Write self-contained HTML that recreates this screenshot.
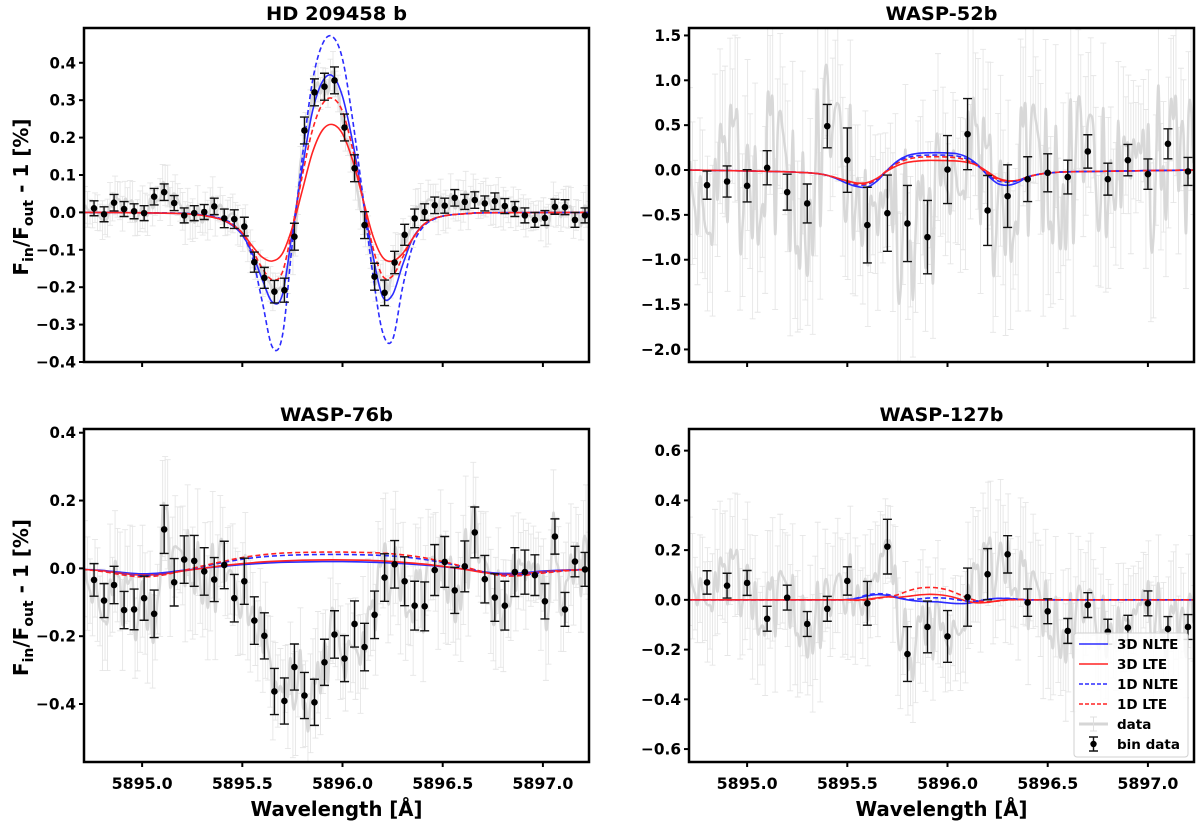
<!DOCTYPE html>
<html><head><meta charset="utf-8"><style>
html,body{margin:0;padding:0;background:#fff;}
svg{display:block;font-family:"DejaVu Sans","Liberation Sans",sans-serif;}
</style></head><body>
<svg id="fig" width="1200" height="824" viewBox="0 0 1200 824" xmlns="http://www.w3.org/2000/svg"></svg>
<script>
// ---------- shared data ----------
const xTicks = [5895.0, 5895.5, 5896.0, 5896.5, 5897.0];
const xTickLabels = ["5895.0", "5895.5", "5896.0", "5896.5", "5897.0"];
const noiseResidual = [0.3,-0.5,0.8,-0.2,0.6,-0.9,0.1,0.7,-0.4,0.9,-0.6,0.2,-0.8,0.5,-0.1,0.6,-0.7,0.4,-0.3,0.9,-0.5,0.1,-0.9,0.7,-0.2,0.4,-0.6,0.8,-0.4,0.2,-0.7,0.5,0.0,-0.8,0.6,-0.3,0.9,-0.1,0.3,-0.6,0.7,-0.9,0.2,0.5,-0.4,0.8,-0.7,0.1,-0.2,0.6,-0.5,0.9,-0.3,0.4,-0.8,0.2,0.7,-0.6,0.3,-0.1,0.8,-0.9,0.5,-0.4,0.1,0.6,-0.7,0.3,-0.2,0.9,-0.5,0.4,-0.8,0.7,-0.3,0.2,-0.6,0.5,-0.9,0.8,-0.1,0.4,-0.7,0.6,-0.2,0.3,-0.5,0.9,-0.4,0.1,-0.8,0.7,-0.3,0.5,-0.6,0.2,-0.9,0.8,-0.1,0.4,-0.5];

// ---------- Panel 1: HD 209458 b ----------
const p1BinY = [0.011,-0.005,0.026,0.009,0.003,-0.002,0.042,0.054,0.025,-0.008,-0.002,0.001,0.016,-0.016,-0.018,-0.038,-0.133,-0.175,-0.212,-0.208,-0.065,0.219,0.321,0.336,0.353,0.227,0.118,-0.034,-0.172,-0.215,-0.134,-0.060,-0.016,0.001,0.019,0.018,0.039,0.028,0.033,0.024,0.030,0.017,0.009,-0.008,-0.020,-0.015,0.015,0.014,-0.020,-0.008];
const p1BinErr = [0.02,0.02,0.022,0.02,0.02,0.02,0.022,0.022,0.02,0.02,0.02,0.02,0.022,0.025,0.025,0.025,0.027,0.028,0.03,0.032,0.036,0.036,0.036,0.036,0.036,0.036,0.036,0.036,0.036,0.034,0.03,0.028,0.025,0.022,0.022,0.02,0.022,0.02,0.022,0.02,0.022,0.02,0.02,0.02,0.02,0.02,0.02,0.02,0.02,0.02];
const p1ModelX = [5894.7,5895.0,5895.20,5895.25,5895.30,5895.35,5895.40,5895.45,5895.50,5895.55,5895.60,5895.65,5895.70,5895.75,5895.80,5895.85,5895.90,5895.95,5896.00,5896.05,5896.10,5896.15,5896.20,5896.25,5896.30,5896.35,5896.40,5896.45,5896.50,5896.55,5896.60,5896.65,5896.70,5897.0,5897.23];
const p1NLTE3D = [0,-0.001,-0.003,-0.005,-0.007,-0.012,-0.02,-0.035,-0.06,-0.11,-0.18,-0.24,-0.22,-0.05,0.12,0.27,0.35,0.365,0.31,0.19,0.04,-0.11,-0.225,-0.22,-0.14,-0.07,-0.035,-0.018,-0.01,-0.006,-0.004,-0.002,-0.001,-0.0005,0];
const p1LTE3D = [0,-0.001,-0.003,-0.005,-0.008,-0.013,-0.02,-0.033,-0.055,-0.09,-0.12,-0.13,-0.11,-0.04,0.06,0.16,0.22,0.235,0.21,0.14,0.04,-0.06,-0.12,-0.13,-0.11,-0.07,-0.035,-0.018,-0.01,-0.006,-0.004,-0.002,-0.001,-0.0005,0];
const p1NLTE1D = [0,-0.001,-0.002,-0.004,-0.006,-0.01,-0.018,-0.03,-0.06,-0.12,-0.24,-0.36,-0.33,-0.08,0.15,0.35,0.45,0.47,0.41,0.25,0.05,-0.16,-0.32,-0.34,-0.2,-0.09,-0.04,-0.02,-0.01,-0.006,-0.004,-0.002,-0.001,-0.0005,0];
const p1LTE1D = [0,-0.001,-0.003,-0.005,-0.008,-0.012,-0.02,-0.033,-0.055,-0.1,-0.15,-0.18,-0.16,-0.04,0.1,0.22,0.29,0.305,0.27,0.17,0.04,-0.09,-0.17,-0.17,-0.12,-0.07,-0.035,-0.018,-0.01,-0.006,-0.004,-0.002,-0.001,-0.0005,0];

// ---------- Panel 2: WASP-52b ----------
const p2BinY = [-0.169,-0.128,-0.176,0.025,-0.247,-0.373,0.489,0.110,-0.614,-0.481,-0.596,-0.748,0.005,0.400,-0.451,-0.291,-0.102,-0.031,-0.079,0.207,-0.102,0.110,-0.046,0.292,-0.016];
const p2BinErr = [0.157,0.173,0.18,0.19,0.2,0.217,0.242,0.359,0.422,0.425,0.424,0.409,0.379,0.396,0.39,0.349,0.25,0.212,0.188,0.186,0.178,0.175,0.169,0.167,0.156];
const p2ModelX = [5894.7,5895.0,5895.20,5895.25,5895.30,5895.35,5895.40,5895.45,5895.50,5895.55,5895.60,5895.65,5895.70,5895.75,5895.80,5895.85,5895.90,5895.95,5896.00,5896.05,5896.10,5896.15,5896.20,5896.25,5896.30,5896.35,5896.40,5896.45,5896.50,5896.55,5896.60,5896.9,5897.23];
const p2NLTE3D = [0,-0.01,-0.02,-0.025,-0.03,-0.04,-0.06,-0.1,-0.15,-0.185,-0.19,-0.12,0.0,0.1,0.16,0.185,0.192,0.193,0.19,0.18,0.14,0.06,-0.06,-0.15,-0.17,-0.14,-0.08,-0.05,-0.035,-0.025,-0.02,-0.01,0];
const p2LTE3D = [0,-0.01,-0.02,-0.025,-0.03,-0.04,-0.06,-0.09,-0.12,-0.145,-0.14,-0.09,-0.01,0.05,0.085,0.1,0.107,0.107,0.105,0.1,0.085,0.05,-0.02,-0.09,-0.12,-0.115,-0.08,-0.05,-0.035,-0.025,-0.02,-0.01,0];
const p2NLTE1D = [0,-0.01,-0.02,-0.025,-0.03,-0.04,-0.06,-0.095,-0.14,-0.165,-0.16,-0.1,0.0,0.09,0.14,0.16,0.166,0.167,0.165,0.155,0.12,0.05,-0.05,-0.12,-0.135,-0.12,-0.075,-0.05,-0.035,-0.025,-0.02,-0.01,0];
const p2LTE1D = [0,-0.01,-0.02,-0.025,-0.03,-0.04,-0.06,-0.09,-0.13,-0.155,-0.15,-0.095,0.0,0.075,0.12,0.14,0.147,0.148,0.145,0.135,0.105,0.045,-0.04,-0.105,-0.125,-0.115,-0.075,-0.05,-0.035,-0.025,-0.02,-0.01,0];

// ---------- Panel 3: WASP-76b ----------
const p3BinY = [-0.034,-0.095,-0.049,-0.123,-0.121,-0.088,-0.134,0.115,-0.041,0.026,0.022,-0.009,-0.033,0.010,-0.088,-0.038,-0.154,-0.199,-0.363,-0.391,-0.291,-0.375,-0.395,-0.277,-0.195,-0.266,-0.164,-0.232,-0.137,-0.027,0.012,-0.038,-0.110,-0.112,-0.005,0.019,-0.065,0.006,0.106,-0.032,-0.086,-0.110,-0.011,-0.011,-0.020,-0.097,0.094,-0.121,0.020,-0.003];
const p3BinErr = [0.048,0.05,0.055,0.055,0.06,0.065,0.07,0.071,0.07,0.07,0.075,0.07,0.065,0.07,0.07,0.068,0.07,0.068,0.068,0.068,0.068,0.068,0.068,0.068,0.07,0.068,0.068,0.07,0.07,0.07,0.07,0.072,0.072,0.072,0.075,0.075,0.068,0.075,0.075,0.07,0.07,0.072,0.072,0.065,0.06,0.052,0.052,0.05,0.045,0.05];
const p3ModelX = [5894.7,5894.8,5894.9,5895.0,5895.1,5895.2,5895.3,5895.4,5895.5,5895.6,5895.7,5895.8,5895.9,5896.0,5896.1,5896.2,5896.3,5896.4,5896.5,5896.6,5896.7,5896.8,5896.9,5897.0,5897.1,5897.23];
const p3NLTE3D = [-0.003,-0.006,-0.012,-0.016,-0.013,-0.006,0.0,0.006,0.011,0.015,0.018,0.019,0.02,0.02,0.019,0.017,0.014,0.01,0.005,-0.002,-0.01,-0.015,-0.013,-0.008,-0.005,-0.003];
const p3LTE3D = [-0.003,-0.007,-0.015,-0.02,-0.017,-0.008,0.0,0.008,0.014,0.019,0.022,0.024,0.025,0.025,0.024,0.022,0.018,0.013,0.006,-0.002,-0.012,-0.018,-0.016,-0.01,-0.006,-0.003];
const p3NLTE1D = [-0.003,-0.008,-0.017,-0.022,-0.018,-0.007,0.005,0.017,0.027,0.034,0.038,0.04,0.041,0.041,0.04,0.038,0.034,0.027,0.017,0.005,-0.01,-0.02,-0.019,-0.012,-0.007,-0.003];
const p3LTE1D = [-0.003,-0.009,-0.019,-0.025,-0.02,-0.007,0.007,0.02,0.032,0.04,0.045,0.047,0.048,0.048,0.047,0.045,0.04,0.032,0.02,0.006,-0.01,-0.022,-0.021,-0.014,-0.008,-0.003];

// ---------- Panel 4: WASP-127b ----------
const p4BinY = [0.070,0.057,0.068,-0.076,0.009,-0.097,-0.036,0.076,-0.014,0.214,-0.218,-0.109,-0.147,0.011,0.103,0.183,-0.011,-0.046,-0.125,-0.021,-0.128,-0.112,-0.014,-0.117,-0.109];
const p4BinErr = [0.047,0.05,0.05,0.05,0.05,0.05,0.05,0.057,0.088,0.11,0.11,0.104,0.104,0.117,0.103,0.075,0.055,0.05,0.05,0.05,0.05,0.05,0.05,0.05,0.05];
const p4ModelX = [5894.7,5895.0,5895.40,5895.45,5895.50,5895.55,5895.60,5895.65,5895.70,5895.75,5895.80,5895.85,5895.90,5895.95,5896.00,5896.05,5896.10,5896.15,5896.20,5896.25,5896.30,5896.35,5896.40,5896.45,5896.50,5897.0,5897.23];
const p4NLTE3D = [0,0,0,0,0.001,0.006,0.016,0.021,0.018,0.008,0.0,-0.005,-0.007,-0.008,-0.012,-0.015,-0.014,-0.006,0.002,0.006,0.005,0.002,0,0,0,0,0];
const p4LTE3D = [0,0,0,0,0,-0.001,0.002,0.008,0.012,0.01,0.014,0.019,0.022,0.021,0.016,0.006,-0.006,-0.012,-0.01,-0.004,0.0,0.001,0,0,0,0,0];
const p4NLTE1D = [0,0,0,0,0.001,0.008,0.02,0.025,0.022,0.01,0.002,0.003,0.007,0.008,0.006,0.0,-0.005,-0.004,0.002,0.006,0.006,0.003,0,0,0,0,0];
const p4LTE1D = [0,0,0,0,0,-0.002,0.0,0.006,0.012,0.02,0.035,0.046,0.05,0.048,0.04,0.025,0.008,-0.004,-0.008,-0.005,-0.001,0.001,0,0,0,0,0];

// ---------- tick labels ----------
const p1YTicks = [-0.4,-0.3,-0.2,-0.1,0.0,0.1,0.2,0.3,0.4];
const p1YLabels = ["−0.4","−0.3","−0.2","−0.1","0.0","0.1","0.2","0.3","0.4"];
const p2YTicks = [-2.0,-1.5,-1.0,-0.5,0.0,0.5,1.0,1.5];
const p2YLabels = ["−2.0","−1.5","−1.0","−0.5","0.0","0.5","1.0","1.5"];
const p3YTicks = [-0.4,-0.2,0.0,0.2,0.4];
const p3YLabels = ["−0.4","−0.2","0.0","0.2","0.4"];
const p4YTicks = [-0.6,-0.4,-0.2,0.0,0.2,0.4,0.6];
const p4YLabels = ["−0.6","−0.4","−0.2","0.0","0.2","0.4","0.6"];

// ---------- drawing ----------
const NS = "http://www.w3.org/2000/svg";
const svg = document.getElementById("fig");
const XMIN = 5894.71, XMAX = 5897.23;
const BIN_X0 = 5894.76, BIN_STEP1 = 0.05, BIN_X0b = 5894.8, BIN_STEP2 = 0.1;
const BLUE = "#2b2bff", RED = "#ff2323";

function mk(tag, attrs, parent) {
  const e = document.createElementNS(NS, tag);
  for (const k in attrs) e.setAttribute(k, attrs[k]);
  (parent || svg).appendChild(e);
  return e;
}
function labelWidth(s) {
  let w = 0;
  for (const c of s) w += (c === "." ? 5.5 : c === "−" ? 13.5 : 10.5);
  return w;
}
function interp(xs, ys, x) {
  if (x <= xs[0]) return ys[0];
  for (let i = 1; i < xs.length; i++) if (x <= xs[i]) {
    const t = (x - xs[i-1]) / (xs[i] - xs[i-1]); return ys[i-1] + t * (ys[i] - ys[i-1]);
  }
  return ys[ys.length - 1];
}
function smoothPath(pts) {
  let d = "M" + pts[0][0].toFixed(2) + "," + pts[0][1].toFixed(2);
  for (let i = 0; i < pts.length - 1; i++) {
    const p0 = pts[Math.max(0, i-1)], p1 = pts[i], p2 = pts[i+1], p3 = pts[Math.min(pts.length-1, i+2)];
    const c1 = [p1[0] + (p2[0]-p0[0])/6, p1[1] + (p2[1]-p0[1])/6];
    const c2 = [p2[0] - (p3[0]-p1[0])/6, p2[1] - (p3[1]-p1[1])/6];
    d += "C" + c1[0].toFixed(2) + "," + c1[1].toFixed(2) + " " + c2[0].toFixed(2) + "," + c2[1].toFixed(2) + " " + p2[0].toFixed(2) + "," + p2[1].toFixed(2);
  }
  return d;
}

function panel(cfg) {
  const {id, L, T, R, B, ymin, ymax} = cfg;
  const g = mk("g", {}, svg);
  
  
  const xs = v => L + (v - XMIN) / (XMAX - XMIN) * (R - L);
  const ys = v => B - (v - ymin) / (ymax - ymin) * (B - T);
  const clip = mk("clipPath", {id: "clip-" + id}, g);
  mk("rect", {x: L, y: T, width: R - L, height: B - T}, clip);
  const plot = mk("g", {"clip-path": "url(#clip-" + id + ")"}, g);
  
  

  const binX = cfg.binY.map((_, i) => cfg.binStart + i * cfg.binStep);

  // raw grey data
  const rawG = mk("g", {}, plot);
  
  
  const rawPts = [];
  const N = noiseResidual.length;
  for (let i = 0; i < 202; i++) {
    const x = 5894.715 + i * 0.0125;
    const r = noiseResidual[(i * 37) % N];
    const v = interp(binX, cfg.binY, x) + cfg.noiseAmp * r;
    rawPts.push([xs(x), ys(v)]);
    const eb = cfg.rawErr * (1 + 0.3 * noiseResidual[(i * 11) % N]);
    const ln = mk("path", {d: "M" + xs(x) + "," + ys(v - eb) + "V" + ys(v + eb) + "M" + (xs(x)-3) + "," + ys(v-eb) + "h6M" + (xs(x)-3) + "," + ys(v+eb) + "h6", stroke: "#e6e6e6", "stroke-width": 0.9, fill: "none"}, rawG);
    
    
  }
  const rawLine = mk("path", {d: smoothPath(rawPts), stroke: "#d8d8d8", "stroke-width": 2.5, fill: "none", "stroke-linejoin": "round"}, rawG);
  
  

  // models
  const models = [
    [cfg.nlte3d, BLUE, null, "model-3d-nlte"],
    [cfg.lte3d, RED, null, "model-3d-lte"],
    [cfg.nlte1d, BLUE, "5,3", "model-1d-nlte"],
    [cfg.lte1d, RED, "5,3", "model-1d-lte"]
  ];
  for (const [arr, col, dash, nm] of models) {
    const pts = arr.map((v, i) => [xs(cfg.modelX[i]), ys(v)]);
    const p = mk("path", {d: smoothPath(pts), stroke: col, "stroke-width": 1.6, fill: "none"}, plot);
    if (dash) p.setAttribute("stroke-dasharray", dash);
    
    
  }

  // binned points
  const binG = mk("g", {}, plot);
  
  
  cfg.binY.forEach((v, i) => {
    const x = xs(binX[i]), e = cfg.binErr[i];
    const y1 = ys(v - e), y2 = ys(v + e);
    const eb = mk("path", {d: "M" + x + "," + y1 + "V" + y2 + "M" + (x-4.5) + "," + y1 + "h9M" + (x-4.5) + "," + y2 + "h9", stroke: "#111", "stroke-width": 1.4, fill: "none"}, binG);
    
    
    const c = mk("circle", {cx: x, cy: ys(v), r: 3.3, fill: "#000"}, binG);
    
    
  });

  const fr = mk("rect", {x: L, y: T, width: R - L, height: B - T, fill: "none", stroke: "#000", "stroke-width": 2.5}, g);
  
  

  cfg.yTicks.forEach((v, i) => {
    const y = ys(v);
    const t = mk("line", {x1: L - 5, x2: L, y1: y, y2: y, stroke: "#000", "stroke-width": 2}, g);
    
    
    const s = cfg.yLabels[i];
    const tx = mk("text", {x: L - 8, y: y + 5.5, "text-anchor": "end", "font-size": 16, "font-weight": "bold", textLength: labelWidth(s), lengthAdjust: "spacingAndGlyphs"}, g);
    tx.textContent = s;
    
    
  });
  xTicks.forEach((v, i) => {
    const x = xs(v);
    const t = mk("line", {x1: x, x2: x, y1: B, y2: B + 5, stroke: "#000", "stroke-width": 2}, g);
    
    
    if (cfg.xLabels) {
      const s = xTickLabels[i];
      const tx = mk("text", {x: x, y: B + 27, "text-anchor": "middle", "font-size": 16, "font-weight": "bold", textLength: labelWidth(s) + 3, lengthAdjust: "spacingAndGlyphs"}, g);
      tx.textContent = s;
      
      
    }
  });
  const ti = mk("text", {x: (L + R) / 2, y: T - 8, "text-anchor": "middle", "font-size": 19, "font-weight": "bold", textLength: cfg.titleW, lengthAdjust: "spacingAndGlyphs"}, g);
  ti.textContent = cfg.title;
  
  
  if (cfg.xLabels) {
    const xl = mk("text", {x: (L + R) / 2, y: 816, "text-anchor": "middle", "font-size": 20, "font-weight": "bold", textLength: 172, lengthAdjust: "spacingAndGlyphs"}, g);
    xl.textContent = "Wavelength [Å]";
    
    
  }
  if (cfg.yLabel) {
    const cy = (T + B) / 2 + 2;
    const yl = mk("text", {x: 0, y: 0, "text-anchor": "middle", "font-size": 20, "font-weight": "bold", transform: "translate(28," + cy + ") rotate(-90)"}, g);
    yl.innerHTML = 'F<tspan font-size="14" dy="5">in</tspan><tspan dy="-5">/F</tspan><tspan font-size="14" dy="5">out</tspan><tspan dy="-5"> - 1 [%]</tspan>';
    
    
  }
  return g;
}

panel({id: "hd209458b", title: "HD 209458 b", titleW: 141, L: 84, T: 28, R: 589, B: 362, ymin: -0.4, ymax: 0.493,
  binY: p1BinY, binErr: p1BinErr, binStart: BIN_X0, binStep: BIN_STEP1, noiseAmp: 0.03, rawErr: 0.045,
  modelX: p1ModelX, nlte3d: p1NLTE3D, lte3d: p1LTE3D, nlte1d: p1NLTE1D, lte1d: p1LTE1D,
  yTicks: p1YTicks, yLabels: p1YLabels, xLabels: false, yLabel: true});
panel({id: "wasp52b", title: "WASP-52b", titleW: 112, L: 689, T: 28, R: 1194, B: 362, ymin: -2.14, ymax: 1.583,
  binY: p2BinY, binErr: p2BinErr, binStart: BIN_X0b, binStep: BIN_STEP2, noiseAmp: 0.9, rawErr: 0.75,
  modelX: p2ModelX, nlte3d: p2NLTE3D, lte3d: p2LTE3D, nlte1d: p2NLTE1D, lte1d: p2LTE1D,
  yTicks: p2YTicks, yLabels: p2YLabels, xLabels: false, yLabel: false});
panel({id: "wasp76b", title: "WASP-76b", titleW: 113, L: 84, T: 429, R: 589, B: 762, ymin: -0.571, ymax: 0.411,
  binY: p3BinY, binErr: p3BinErr, binStart: BIN_X0, binStep: BIN_STEP1, noiseAmp: 0.11, rawErr: 0.13,
  modelX: p3ModelX, nlte3d: p3NLTE3D, lte3d: p3LTE3D, nlte1d: p3NLTE1D, lte1d: p3LTE1D,
  yTicks: p3YTicks, yLabels: p3YLabels, xLabels: true, yLabel: true});
panel({id: "wasp127b", title: "WASP-127b", titleW: 124, L: 689, T: 429, R: 1194, B: 762, ymin: -0.652, ymax: 0.687,
  binY: p4BinY, binErr: p4BinErr, binStart: BIN_X0b, binStep: BIN_STEP2, noiseAmp: 0.15, rawErr: 0.2,
  modelX: p4ModelX, nlte3d: p4NLTE3D, lte3d: p4LTE3D, nlte1d: p4NLTE1D, lte1d: p4LTE1D,
  yTicks: p4YTicks, yLabels: p4YLabels, xLabels: true, yLabel: false});

// legend
const lg = mk("g", {}, svg);


mk("rect", {x: 1074, y: 633, width: 114, height: 124, rx: 3, fill: "#fff", "fill-opacity": 0.85, stroke: "#d0d0d0", "stroke-width": 1}, lg);
const legendNames = ["3D NLTE", "3D LTE", "1D NLTE", "1D LTE", "data", "bin data"];
const legendKeys = ["legend-3d-nlte", "legend-3d-lte", "legend-1d-nlte", "legend-1d-lte", "legend-data", "legend-bin-data"];
legendNames.forEach((nm, i) => {
  const y = 644 + i * 20;
  const e = mk("g", {}, lg);
  
  
  if (i < 4) {
    const l = mk("line", {x1: 1079, x2: 1108, y1: y, y2: y, stroke: i % 2 === 0 ? BLUE : RED, "stroke-width": 1.6}, e);
    if (i >= 2) l.setAttribute("stroke-dasharray", "4,2");
  } else if (i === 4) {
    mk("line", {x1: 1079, x2: 1108, y1: y, y2: y, stroke: "#d6d6d6", "stroke-width": 3}, e);
    mk("path", {d: "M1093.5," + (y-7) + "v14M1090," + (y-7) + "h7M1090," + (y+7) + "h7", stroke: "#e0e0e0", "stroke-width": 1, fill: "none"}, e);
  } else {
    mk("path", {d: "M1093.5," + (y-7) + "v14M1089," + (y-7) + "h9M1089," + (y+7) + "h9", stroke: "#111", "stroke-width": 1.4, fill: "none"}, e);
    mk("circle", {cx: 1093.5, cy: y, r: 3.2, fill: "#000"}, e);
  }
  const t = mk("text", {x: 1117, y: y + 5, "font-size": 13.5, "font-weight": "bold"}, e);
  t.textContent = nm;
});
</script>
</body></html>
